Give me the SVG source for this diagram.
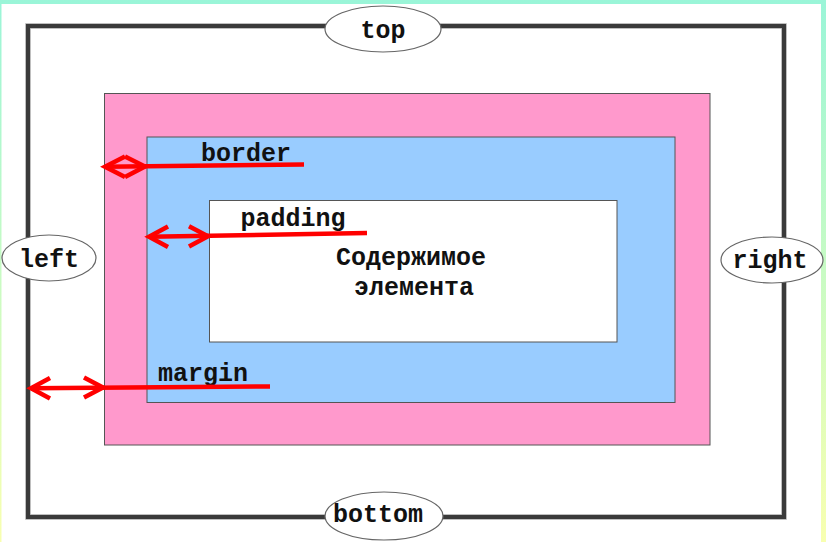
<svg xmlns="http://www.w3.org/2000/svg" width="826" height="542" viewBox="0 0 826 542">
<defs>
<linearGradient id="bg" x1="0" y1="0" x2="0" y2="1">
<stop offset="0" stop-color="#9af5d8"/>
<stop offset="0.5" stop-color="#c8fbc4"/>
<stop offset="1" stop-color="#f8ffb0"/>
</linearGradient>
<style>
.t{font-family:"Liberation Mono","Courier New",monospace;font-weight:bold;font-size:25px;fill:#111;text-anchor:middle}
.box{stroke:#555;stroke-width:1}
.oval{fill:#fff;stroke:#666;stroke-width:1.2}
.arr{fill:none;stroke:#ff0000;stroke-width:4.5;stroke-linecap:butt;stroke-linejoin:miter}
</style>
</defs>
<rect x="0" y="0" width="826" height="542" fill="url(#bg)"/>
<rect x="1.5" y="4" width="819.5" height="538" fill="#fff"/>
<g id="frame">
<rect x="28" y="26" width="756" height="491" fill="none" stroke="#aaa" stroke-width="5.5"/>
<rect x="28" y="26" width="756" height="491" fill="none" stroke="#3a3a3a" stroke-width="4"/>
</g>
<g id="border-box"><rect class="box" x="104.5" y="93.5" width="605.5" height="351.5" fill="#ff99cc"/></g>
<g id="padding-box"><rect class="box" x="147" y="137" width="528" height="265.5" fill="#99ccff"/></g>
<g id="content">
<rect class="box" x="209.5" y="200.5" width="407.5" height="141.5" fill="#fff"/>
<text class="t" x="411" y="265">Содержимое</text>
<text class="t" x="414" y="295">элемента</text>
</g>
<g id="top"><ellipse class="oval" cx="383" cy="29" rx="58" ry="23"/><text class="t" x="383" y="38">top</text></g>
<g id="left"><ellipse class="oval" cx="49" cy="258" rx="47" ry="23"/><text class="t" x="49" y="266.5">left</text></g>
<g id="right"><ellipse class="oval" cx="772" cy="260" rx="51" ry="23"/><text class="t" x="770" y="268">right</text></g>
<g id="bottom"><ellipse class="oval" cx="384" cy="516" rx="59" ry="24"/><text class="t" x="378" y="522">bottom</text></g>
<g id="labels">
<text class="t" x="246" y="161">border</text>
<text class="t" x="293" y="226">padding</text>
<text class="t" x="203" y="381">margin</text>
</g>
<g id="connectors">
<path class="arr" d="M105,166.8 L304,164.5"/>
<path class="arr" d="M125,156.5 L105,166.8 L125,177 M125,156.5 L145,166.5 L125,177"/>
<path class="arr" d="M149,236.8 L367,233"/>
<path class="arr" d="M168,226.5 L149,236.8 L168,247 M189,226.3 L208,236.3 L189,246.5"/>
<path class="arr" d="M31,388.3 L270,386.5"/>
<path class="arr" d="M50,378 L31,388.3 L50,398.5 M84,377.5 L103,387.5 L84,397.5"/>
</g>
</svg>
